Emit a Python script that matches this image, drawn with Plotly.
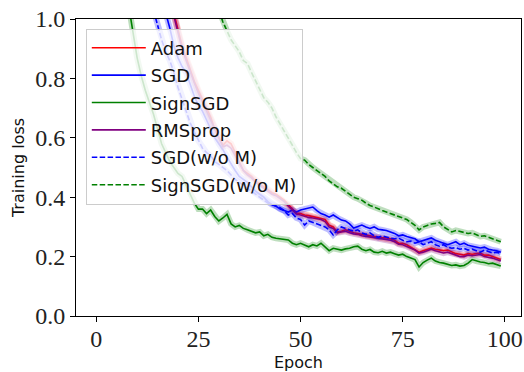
import plotly.graph_objects as go

EPOCHS = list(range(100))

adam_start = 19
adam = [1.02, 0.96, 0.91, 0.87, 0.83, 0.79, 0.76, 0.73, 0.70, 0.67, 0.63, 0.60, 0.575, 0.59, 0.58, 0.55, 0.52, 0.49, 0.48, 0.47,
        0.455, 0.445, 0.435, 0.425, 0.415, 0.41, 0.40, 0.39, 0.375, 0.36, 0.347, 0.345, 0.34, 0.338, 0.335, 0.332, 0.33, 0.325, 0.306, 0.30,
        0.283, 0.285, 0.29, 0.285, 0.28, 0.278, 0.275, 0.272, 0.27, 0.268, 0.265, 0.263, 0.263, 0.26, 0.255, 0.245, 0.245, 0.24, 0.232, 0.225,
        0.215, 0.22, 0.225, 0.229, 0.225, 0.222, 0.22, 0.222, 0.215, 0.21, 0.208, 0.205, 0.21, 0.208, 0.21, 0.212, 0.205, 0.205, 0.2, 0.195, 0.19]

sgd_start = 17
sgd = [1.02, 0.97, 0.91, 0.87, 0.84, 0.82, 0.78, 0.74, 0.71, 0.69, 0.66, 0.63, 0.60, 0.58, 0.56, 0.535, 0.51, 0.49, 0.47, 0.46,
       0.45, 0.435, 0.42, 0.41, 0.40, 0.385, 0.375, 0.37, 0.36, 0.355, 0.35, 0.357, 0.35, 0.357, 0.36, 0.365, 0.367, 0.355, 0.345, 0.34,
       0.333, 0.34, 0.33, 0.323, 0.32, 0.31, 0.296, 0.30, 0.306, 0.30, 0.295, 0.30, 0.292, 0.29, 0.288, 0.283, 0.278, 0.27, 0.273, 0.268,
       0.265, 0.26, 0.25, 0.255, 0.26, 0.263, 0.255, 0.25, 0.245, 0.24, 0.245, 0.25, 0.24, 0.245, 0.238, 0.235, 0.23, 0.229, 0.232, 0.225,
       0.222, 0.22, 0.215]

signsgd_start = 8
signsgd = [1.04, 0.95, 0.87, 0.81, 0.76, 0.72, 0.68, 0.63, 0.58, 0.55, 0.52, 0.50, 0.48, 0.47, 0.44, 0.41, 0.38, 0.36, 0.36, 0.345,
           0.357, 0.335, 0.32, 0.33, 0.342, 0.31, 0.30, 0.305, 0.295, 0.29, 0.285, 0.28, 0.283, 0.27, 0.275, 0.265, 0.262, 0.26, 0.258, 0.256,
           0.245, 0.24, 0.245, 0.238, 0.233, 0.24, 0.236, 0.245, 0.232, 0.22, 0.228, 0.225, 0.222, 0.226, 0.228, 0.233, 0.235, 0.225, 0.22, 0.224,
           0.215, 0.213, 0.218, 0.212, 0.215, 0.21, 0.205, 0.208, 0.2, 0.195, 0.19, 0.165, 0.18, 0.188, 0.195, 0.185, 0.18, 0.178, 0.175, 0.17,
           0.172, 0.168, 0.17, 0.178, 0.19, 0.185, 0.182, 0.18, 0.176, 0.178, 0.172, 0.168]

rmsprop_start = 19
rmsprop = [1.01, 0.95, 0.90, 0.86, 0.82, 0.785, 0.75, 0.72, 0.69, 0.66, 0.625, 0.595, 0.57, 0.575, 0.565, 0.54, 0.515, 0.49, 0.475, 0.465,
           0.45, 0.44, 0.43, 0.42, 0.41, 0.405, 0.395, 0.385, 0.37, 0.355, 0.343, 0.34, 0.335, 0.332, 0.33, 0.328, 0.325, 0.318, 0.30, 0.295,
           0.28, 0.283, 0.285, 0.28, 0.276, 0.275, 0.27, 0.268, 0.266, 0.263, 0.26, 0.258, 0.257, 0.255, 0.25, 0.242, 0.24, 0.235, 0.228, 0.222,
           0.212, 0.215, 0.22, 0.225, 0.22, 0.215, 0.212, 0.215, 0.21, 0.205, 0.2, 0.2, 0.205, 0.203, 0.205, 0.207, 0.2, 0.198, 0.195, 0.19, 0.185]

sgd_nom_start = 14
sgd_nom = [1.03, 0.98, 0.93, 0.89, 0.86, 0.82, 0.77, 0.73, 0.69, 0.65, 0.62, 0.59, 0.565, 0.55, 0.54, 0.52, 0.51, 0.50, 0.49, 0.475,
           0.46, 0.45, 0.44, 0.43, 0.42, 0.41, 0.40, 0.39, 0.38, 0.375, 0.37, 0.365, 0.355, 0.34, 0.345, 0.33, 0.325, 0.306, 0.32, 0.315,
           0.31, 0.305, 0.30, 0.29, 0.273, 0.29, 0.30, 0.295, 0.29, 0.285, 0.29, 0.28, 0.275, 0.28, 0.27, 0.265, 0.27, 0.265, 0.262, 0.26,
           0.262, 0.255, 0.25, 0.252, 0.245, 0.25, 0.24, 0.245, 0.25, 0.24, 0.235, 0.24, 0.232, 0.228, 0.23, 0.225, 0.228, 0.222, 0.225, 0.22,
           0.215, 0.222, 0.218, 0.212, 0.215, 0.21]

signsgd_nom_start = 30
signsgd_nom = [1.03, 0.99, 0.96, 0.93, 0.91, 0.89, 0.86, 0.85, 0.82, 0.79, 0.76, 0.735, 0.72, 0.70, 0.67, 0.645, 0.625, 0.60, 0.575, 0.55,
               0.53, 0.525, 0.51, 0.50, 0.49, 0.48, 0.47, 0.455, 0.445, 0.435, 0.43, 0.42, 0.41, 0.40, 0.395, 0.39, 0.38, 0.372, 0.367, 0.36,
               0.355, 0.35, 0.345, 0.338, 0.333, 0.33, 0.325, 0.315, 0.305, 0.29, 0.30, 0.305, 0.31, 0.312, 0.315, 0.30, 0.29, 0.283, 0.288, 0.285,
               0.28, 0.278, 0.28, 0.275, 0.268, 0.27, 0.265, 0.26, 0.255, 0.25]

SERIES = [
    ("Adam", adam_start, adam, "#ff0000", "solid"),
    ("SGD", sgd_start, sgd, "#0000ff", "solid"),
    ("SignSGD", signsgd_start, signsgd, "#008000", "solid"),
    ("RMSprop", rmsprop_start, rmsprop, "#800080", "solid"),
    ("SGD(w/o M)", sgd_nom_start, sgd_nom, "#0000ff", "5.5px,2.4px"),
    ("SignSGD(w/o M)", signsgd_nom_start, signsgd_nom, "#008000", "5.5px,2.4px"),
]

X_TICKS = [0, 25, 50, 75, 100]
Y_TICKS = [0.0, 0.2, 0.4, 0.6, 0.8, 1.0]

fig = go.Figure()
for name, start, vals, color, dash in SERIES:
    xs = EPOCHS[start:start + len(vals)]
    fig.add_trace(go.Scatter(x=xs, y=vals, mode="lines", line=dict(color=color, width=6),
                             opacity=0.25, showlegend=False, legendgroup=name, hoverinfo="skip"))
    fig.add_trace(go.Scatter(x=xs, y=vals, mode="lines", name=name, legendgroup=name,
                             line=dict(color=color, width=1.6, dash=dash)))

tickfont = dict(family="Liberation Serif, DejaVu Serif, serif", size=24, color="#222")
fig.update_layout(
    width=524, height=372,
    margin=dict(l=76, r=1, t=19, b=56),
    plot_bgcolor="white", paper_bgcolor="white",
    font=dict(family="DejaVu Sans, sans-serif", color="#111"),
    legend=dict(x=0.022, y=0.968, xanchor="left", yanchor="top",
                bgcolor="rgba(255,255,255,0.8)", bordercolor="#cccccc", borderwidth=1,
                font=dict(size=18, family="DejaVu Sans, sans-serif", color="#111"),
                tracegroupgap=1, traceorder="grouped", itemwidth=54),
    xaxis=dict(range=[-4.95, 103.95], tickvals=X_TICKS, ticks="outside", ticklen=5, tickcolor="black",
               showline=True, linecolor="black", linewidth=1, mirror=True, showgrid=False, zeroline=False,
               tickfont=tickfont, ticklabelstandoff=-4, ticklabeloverflow="allow",
               title=dict(text="Epoch", font=dict(size=16), standoff=8)),
    yaxis=dict(range=[0, 1.0], tickvals=Y_TICKS, tickformat=".1f", ticks="outside", ticklen=5, tickcolor="black",
               showline=True, linecolor="black", linewidth=1, mirror=True, showgrid=False, zeroline=False,
               tickfont=tickfont, title=dict(text="Training loss", font=dict(size=16), standoff=6)),
)

fig.write_html("out.html")
